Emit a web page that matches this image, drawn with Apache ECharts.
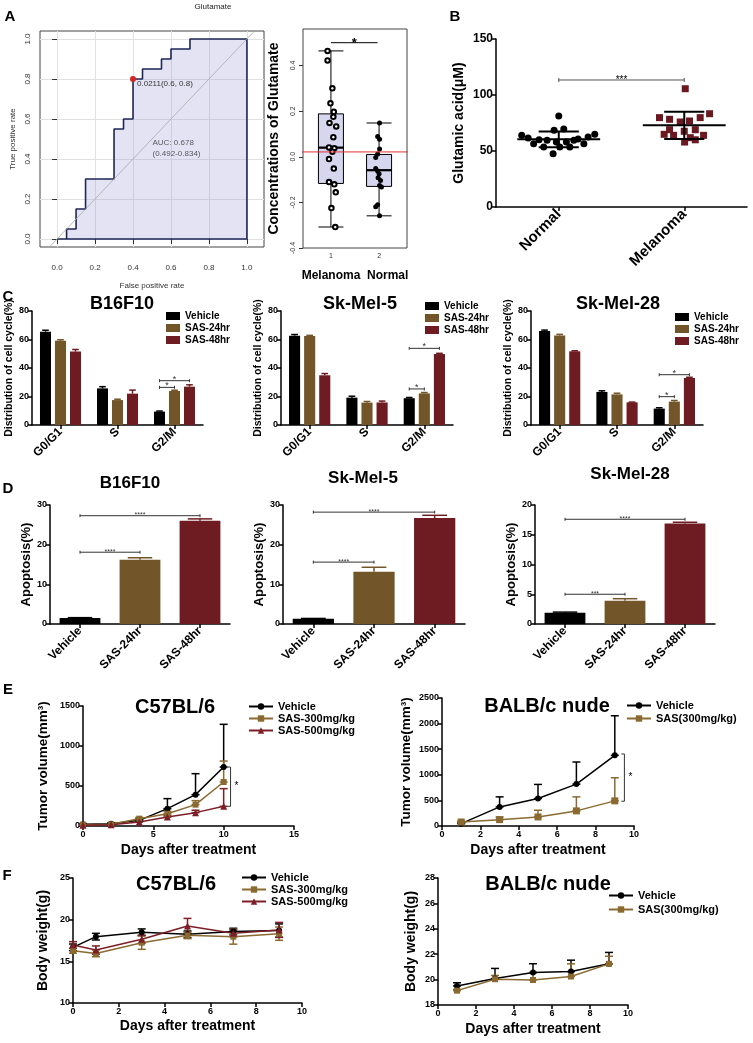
<!DOCTYPE html>
<html>
<head>
<meta charset="utf-8">
<title>Glutamate and SAS figure</title>
<script src="https://cdn.jsdelivr.net/npm/echarts@6/dist/echarts.min.js"></script>
<style>
  html, body { margin: 0; padding: 0; background: #fff; }
  #fig { width: 753px; height: 1043px; }
</style>
</head>
<body>
<div id="fig"></div>
<script>
const FONT = '"Liberation Sans", Arial, Helvetica, sans-serif';
const BLACK = '#000000';
const BROWN = '#73552a';
const WINE = '#6e1b22';
const LINE_BROWN = '#8a6a30';
const LINE_WINE = '#7d1e26';

// ---- A: ROC curve (step points, closed back along the x axis) ----
const rocFpr = [0, 0.05, 0.05, 0.1, 0.1, 0.15, 0.15, 0.3, 0.3, 0.35, 0.35, 0.4, 0.4, 0.45, 0.45, 0.55, 0.55, 0.6, 0.6, 0.7, 0.7, 1, 1, 0];
const rocTpr = [0, 0, 0.05, 0.05, 0.15, 0.15, 0.3, 0.3, 0.55, 0.55, 0.6, 0.6, 0.8, 0.8, 0.85, 0.85, 0.9, 0.9, 0.95, 0.95, 1, 1, 0, 0];
const rocDiagonal = [[-0.04, -0.04], [1.04, 1.04]];
const rocCut = [0.4, 0.8];
const rocCutLabel = '0.0211(0.6, 0.8)';
const aucAt = [0.5, 0.456];
const aucText = 'AUC: 0.678\n(0.492-0.834)';
const rocTicks = [0, 0.2, 0.4, 0.6, 0.8, 1.0];

// ---- A: box plot of glutamate concentration ----
const boxGroups = ['Melanoma', 'Normal'];
const boxStats = [[-0.308, -0.117, 0.040, 0.188, 0.464], [-0.259, -0.130, -0.059, 0.010, 0.148]];
const boxYTicks = [-0.4, -0.2, 0, 0.2, 0.4];
const glutCutoff = 0.0211;
const cutoffSpan = [-0.01, 2.96];
const melanomaConc = [[0.93, 0.464], [0.93, 0.422], [1.03, 0.30], [0.99, 0.234], [1.06, 0.197], [1.05, 0.175],
  [0.97, 0.148], [1.11, 0.133], [1.05, 0.086], [0.96, 0.041], [1.07, 0.037], [1.03, 0.022], [0.96, -0.010],
  [1.06, -0.052], [0.96, -0.111], [1.07, -0.121], [1.10, -0.156], [1.01, -0.225], [1.09, -0.308]];
const normalConc = [[2.01, 0.148], [1.97, 0.089], [2.01, 0.077], [2.01, 0.034], [1.97, 0.012], [1.93, -0.003],
  [1.93, -0.052], [1.97, -0.062], [2.00, -0.074], [1.98, -0.092], [2.03, -0.104], [2.01, -0.126],
  [2.05, -0.133], [1.97, -0.210], [1.93, -0.219], [2.01, -0.259]];
const boxSig = [[1, 0, 1.97, 0, 0.50]];
const boxSigLabels = ['*'];

// ---- B: glutamic acid ----
const gluGroups = ['Normal', 'Melanoma'];
const normalGlu = [[0.205, 64], [0.256, 61.6], [0.30, 56.5], [0.343, 60], [0.38, 53.6], [0.407, 59.5], [0.455, 47.6],
  [0.463, 68.5], [0.50, 81.2], [0.481, 58], [0.508, 53.6], [0.54, 69.6], [0.561, 58], [0.588, 53.6], [0.62, 59.5],
  [0.654, 60.7], [0.70, 56.5], [0.734, 62.5], [0.787, 64.9]];
const melanomaGlu = [[1.508, 105.6], [1.303, 79.8], [1.383, 78.3], [1.468, 75.9], [1.542, 76.8], [1.627, 79.8],
  [1.702, 83.3], [1.383, 69], [1.50, 67.6], [1.588, 69], [1.34, 64.9], [1.415, 64], [1.548, 61.9], [1.654, 64],
  [1.503, 58], [1.588, 60]];
const gluMeanSd = [[0.5, 60.4, 7.0], [1.5, 72.9, 12.2]];
const gluSig = [[0, 0, 1, 0, 113.4]];
const gluSigLabels = ['***'];

// ---- C: cell cycle distribution (rows = Vehicle, SAS-24hr, SAS-48hr) ----
const cyclePhases = ['G0/G1', 'S', 'G2/M'];
const cycleGroups = ['Vehicle', 'SAS-24hr', 'SAS-48hr'];
const b16Cycle = [[65.5, 25.7, 9.4], [59.2, 17.5, 23.9], [51.5, 22.0, 26.9]];
const b16CycleErr = [[1.0, 1.2, 0.4], [0.6, 0.6, 0.5], [1.5, 2.5, 1.3]];
const mel5Cycle = [[62.7, 19.2, 18.8], [62.5, 15.7, 22.2], [34.9, 15.8, 49.8]];
const mel5CycleErr = [[0.8, 1.0, 0.5], [0.4, 0.8, 0.6], [1.2, 1.0, 0.5]];
const mel28Cycle = [[66.0, 23.2, 11.5], [62.8, 21.5, 16.4], [51.7, 15.9, 33.0]];
const mel28CycleErr = [[0.6, 0.8, 0.6], [0.8, 0.8, 0.8], [0.4, 0.2, 0.5]];
const b16CycleSig = [[2, 0, 2, 1, 26.4], [2, 0, 2, 2, 31.1]];
const mel5CycleSig = [[2, 0, 2, 1, 25.3], [2, 0, 2, 2, 53.8]];
const mel28CycleSig = [[2, 0, 2, 1, 19.9], [2, 0, 2, 2, 35.3]];
const cycleSigLabels = ['*', '*'];

// ---- D: apoptosis ----
const apopGroups = ['Vehicle', 'SAS-24hr', 'SAS-48hr'];
const b16Apop = [1.5, 16.2, 26.0];
const b16ApopErr = [0.1, 0.5, 0.5];
const mel5Apop = [1.3, 13.2, 26.7];
const mel5ApopErr = [0.1, 1.1, 0.7];
const mel28Apop = [1.9, 3.9, 16.9];
const mel28ApopErr = [0.1, 0.35, 0.2];
const b16ApopSig = [[0, 0, 1, 0, 18.1], [0, 0, 2, 0, 27.3]];
const mel5ApopSig = [[0, 0, 1, 0, 15.6], [0, 0, 2, 0, 28.2]];
const mel28ApopSig = [[0, 0, 1, 0, 5.0], [0, 0, 2, 0, 17.6]];
const b16ApopSigLabels = ['****', '****'];
const mel5ApopSigLabels = ['****', '****'];
const mel28ApopSigLabels = ['***', '****'];

// ---- E: tumour volume ----
const e1Days = [0, 2, 4, 6, 8, 10];
const e1Vehicle = [21, 29, 71, 217, 392, 737];
const e1VehicleErr = [10, 10, 20, 125, 262, 534];
const e1Sas300 = [17, 21, 92, 154, 267, 550];
const e1Sas300Err = [5, 5, 15, 30, 50, 262];
const e1Sas500 = [8, 17, 50, 112, 167, 246];
const e1Sas500Err = [5, 5, 10, 20, 30, 221];
const e1Sig = [[10.49, 737, 246]];
const e2Days = [1, 3, 5, 7, 9];
const e2Vehicle = [46, 373, 537, 818, 1381];
const e2VehicleErr = [20, 196, 275, 432, 772];
const e2Sas = [78, 124, 177, 295, 491];
const e2SasErr = [20, 50, 131, 274, 451];
const e2Sig = [[9.5, 1407, 484]];

// ---- F: body weight ----
const f1Days = [0, 1, 3, 5, 7, 9];
const f1Vehicle = [16.68, 17.96, 18.49, 18.24, 18.57, 18.69];
const f1VehicleErr = [0.4, 0.4, 0.4, 0.4, 0.4, 0.8];
const f1Sas300 = [16.27, 15.95, 17.24, 18.12, 17.96, 18.32];
const f1Sas300Err = [0.3, 0.4, 0.8, 0.4, 0.9, 0.8];
const f1Sas500 = [16.96, 16.35, 17.64, 19.25, 18.36, 18.77];
const f1Sas500Err = [0.4, 0.5, 0.5, 0.9, 0.4, 0.9];
const f2Days = [1, 3, 5, 7, 9];
const f2Vehicle = [19.5, 20.08, 20.55, 20.63, 21.24];
const f2VehicleErr = [0.25, 0.8, 0.7, 0.9, 0.9];
const f2Sas = [19.13, 20.03, 19.97, 20.24, 21.24];
const f2SasErr = [0.1, 0.3, 0.6, 1.0, 0.6];

// ---------- renderers ----------
function barSlot(band, n, k, catGap, barGap) {
  const usable = band * (1 - catGap);
  const w = usable / (n + (n - 1) * barGap);
  return { dx: -usable / 2 + w / 2 + k * w * (1 + barGap), w: w };
}

// [category, seriesIndex, value, error]
function barErrors(colorOf, n, catGap, barGap) {
  return function (params, api) {
    const c = api.value(0), k = api.value(1), v = api.value(2), e = api.value(3);
    const base = api.coord([c, v]);
    const top = api.coord([c, v + e]);
    const slot = barSlot(api.size([1, 0])[0], n, k, catGap, barGap);
    const x = base[0] + slot.dx;
    const hw = slot.w * 0.3;
    const style = { stroke: colorOf(c, k), lineWidth: 1.5 };
    return { type: 'group', children: [
      { type: 'line', shape: { x1: x, y1: base[1], x2: x, y2: top[1] }, style: style },
      { type: 'line', shape: { x1: x - hw, y1: top[1], x2: x + hw, y2: top[1] }, style: style }
    ] };
  };
}

// [cat1, series1, cat2, series2, y]
function sigBracket(labels, n, catGap, barGap, opts) {
  return function (params, api) {
    const c1 = api.value(0), k1 = api.value(1), c2 = api.value(2), k2 = api.value(3), y = api.value(4);
    const band = api.size([1, 0])[0];
    const p1 = api.coord([c1, y]), p2 = api.coord([c2, y]);
    const x1 = p1[0] + (n ? barSlot(band, n, k1, catGap, barGap).dx : 0);
    const x2 = p2[0] + (n ? barSlot(band, n, k2, catGap, barGap).dx : 0);
    const yy = p1[1];
    const st = { stroke: opts.color, lineWidth: opts.width };
    return { type: 'group', children: [
      { type: 'line', shape: { x1: x1, y1: yy, x2: x2, y2: yy }, style: st },
      { type: 'line', shape: { x1: x1, y1: yy - opts.tick, x2: x1, y2: yy + opts.tick }, style: st },
      { type: 'line', shape: { x1: x2, y1: yy - opts.tick, x2: x2, y2: yy + opts.tick }, style: st },
      { type: 'text', x: (x1 + x2) / 2, y: yy + opts.lift, style: {
        text: labels[params.dataIndex], fill: opts.textColor || opts.color, font: opts.font,
        align: 'center', verticalAlign: 'bottom' } }
    ] };
  };
}

// [x, y1, y2]
function sideBracket(label) {
  return function (params, api) {
    const a = api.coord([api.value(0), api.value(1)]);
    const b = api.coord([api.value(0), api.value(2)]);
    const st = { stroke: '#333', lineWidth: 1 };
    return { type: 'group', children: [
      { type: 'line', shape: { x1: a[0], y1: a[1], x2: b[0], y2: b[1] }, style: st },
      { type: 'line', shape: { x1: a[0] - 3, y1: a[1], x2: a[0], y2: a[1] }, style: st },
      { type: 'line', shape: { x1: b[0] - 3, y1: b[1], x2: b[0], y2: b[1] }, style: st },
      { type: 'text', x: a[0] + 4, y: (a[1] + b[1]) / 2, style: {
        text: label, fill: '#000', font: '10px ' + FONT, align: 'left', verticalAlign: 'middle' } }
    ] };
  };
}

// [x, y, up, down]
function pointErrors(color) {
  return function (params, api) {
    const x = api.value(0), y = api.value(1);
    const hi = api.coord([x, y + api.value(2)]);
    const lo = api.coord([x, y - api.value(3)]);
    const st = { stroke: color, lineWidth: 1.5 };
    return { type: 'group', children: [
      { type: 'line', shape: { x1: hi[0], y1: hi[1], x2: lo[0], y2: lo[1] }, style: st },
      { type: 'line', shape: { x1: hi[0] - 4, y1: hi[1], x2: hi[0] + 4, y2: hi[1] }, style: st },
      { type: 'line', shape: { x1: lo[0] - 4, y1: lo[1], x2: lo[0] + 4, y2: lo[1] }, style: st }
    ] };
  };
}

// [x, mean, sd]
function meanSd(params, api) {
  const x = api.value(0), m = api.value(1), s = api.value(2);
  const unit = api.size([1, 0])[0];
  const c = api.coord([x, m]), hi = api.coord([x, m + s]), lo = api.coord([x, m - s]);
  const st = { stroke: '#000', lineWidth: 2 };
  const mw = unit * 0.33, cw = unit * 0.16;
  return { type: 'group', children: [
    { type: 'line', shape: { x1: c[0] - mw, y1: c[1], x2: c[0] + mw, y2: c[1] }, style: st },
    { type: 'line', shape: { x1: c[0], y1: hi[1], x2: c[0], y2: lo[1] }, style: st },
    { type: 'line', shape: { x1: c[0] - cw, y1: hi[1], x2: c[0] + cw, y2: hi[1] }, style: st },
    { type: 'line', shape: { x1: c[0] - cw, y1: lo[1], x2: c[0] + cw, y2: lo[1] }, style: st }
  ] };
}

// [x, median]
function medianBar(params, api) {
  const c = api.coord([api.value(0), api.value(1)]);
  const hw = api.size([1, 0])[0] * 0.26;
  return { type: 'line', shape: { x1: c[0] - hw, y1: c[1], x2: c[0] + hw, y2: c[1] },
    style: { stroke: '#000', lineWidth: 2.2 } };
}

// ---------- axes ----------
const prismLine = { show: true, lineStyle: { color: '#000', width: 1.5 } };
const prismTick = { show: true, length: 4, lineStyle: { color: '#000', width: 1.5 } };
const plainNumber = function (v) { return String(v); };

function prismY(grid, min, max, interval, name, nameGap, nameSize, labelSize) {
  return {
    type: 'value', gridIndex: grid, min: min, max: max, interval: interval,
    name: name, nameLocation: 'middle', nameGap: nameGap,
    nameTextStyle: { fontFamily: FONT, fontWeight: 'bold', fontSize: nameSize, color: '#000' },
    axisLine: prismLine, axisTick: prismTick,
    axisLabel: { fontFamily: FONT, fontWeight: 'bold', fontSize: labelSize, color: '#000', margin: 3, formatter: plainNumber },
    splitLine: { show: false }
  };
}
function prismX(grid, min, max, interval, name, nameGap) {
  return {
    type: 'value', gridIndex: grid, min: min, max: max, interval: interval,
    name: name, nameLocation: 'middle', nameGap: nameGap,
    nameTextStyle: { fontFamily: FONT, fontWeight: 'bold', fontSize: 14, color: '#000' },
    axisLine: prismLine, axisTick: prismTick,
    axisLabel: { fontFamily: FONT, fontWeight: 'bold', fontSize: 9, color: '#000', margin: 4, formatter: plainNumber },
    splitLine: { show: false }
  };
}
function prismCat(grid, cats, labelSize) {
  return {
    type: 'category', gridIndex: grid, data: cats,
    axisLine: prismLine,
    axisTick: { show: true, alignWithLabel: true, length: 4, lineStyle: { color: '#000', width: 1.5 } },
    axisLabel: { rotate: 45, interval: 0, fontFamily: FONT, fontWeight: 'bold', fontSize: labelSize, color: '#000', margin: 5 },
    splitLine: { show: false }
  };
}

function legendAt(left, top, names, tag, isBar, gap) {
  return {
    left: left, top: top, orient: 'vertical', padding: 0, itemGap: gap,
    itemWidth: isBar ? 14 : 24, itemHeight: 8,
    icon: isBar ? 'rect' : null,
    selectedMode: false,
    data: names.map(function (n) { return n + tag; }),
    formatter: function (n) { return n.split('#')[0]; },
    textStyle: { fontFamily: FONT, fontWeight: 'bold', fontSize: isBar ? 10 : 11, color: '#000' }
  };
}

// ---------- series builders ----------
const cycleColors = [BLACK, BROWN, WINE];
const apopColors = [BLACK, BROWN, WINE];

function cyclePanel(idx, values, errs, sig) {
  const tag = '#C' + (idx + 1), xi = 4 + idx, yi = 3 + idx;
  const out = cycleGroups.map(function (g, k) {
    return { type: 'bar', name: g + tag, xAxisIndex: xi, yAxisIndex: yi, data: values[k],
      barCategoryGap: '28%', barGap: '36%', itemStyle: { color: cycleColors[k] } };
  });
  const rows = [];
  values.forEach(function (row, k) { row.forEach(function (v, c) { rows.push([c, k, v, errs[k][c]]); }); });
  out.push({ type: 'custom', xAxisIndex: xi, yAxisIndex: yi, data: rows, encode: { x: 0, y: 2 }, z: 3,
    renderItem: barErrors(function (c, k) { return cycleColors[k]; }, 3, 0.28, 0.36) });
  out.push({ type: 'custom', xAxisIndex: xi, yAxisIndex: yi, data: sig, encode: { x: 0, y: 4 }, z: 4,
    renderItem: sigBracket(cycleSigLabels, 3, 0.28, 0.36,
      { color: '#333', width: 1, tick: 1.5, lift: 3, font: '9px ' + FONT }) });
  return out;
}

function apopPanel(idx, values, errs, sig, labels) {
  const xi = 7 + idx, yi = 6 + idx;
  return [
    { type: 'bar', name: 'Apoptosis#D' + (idx + 1), xAxisIndex: xi, yAxisIndex: yi, barCategoryGap: '32%',
      data: values.map(function (v, i) { return { value: v, itemStyle: { color: apopColors[i] } }; }) },
    { type: 'custom', xAxisIndex: xi, yAxisIndex: yi, encode: { x: 0, y: 2 }, z: 3,
      data: values.map(function (v, i) { return [i, 0, v, errs[i]]; }),
      renderItem: barErrors(function (c) { return apopColors[c]; }, 1, 0.32, 0) },
    { type: 'custom', xAxisIndex: xi, yAxisIndex: yi, data: sig, encode: { x: 0, y: 4 }, z: 4,
      renderItem: sigBracket(labels, 1, 0.32, 0,
        { color: '#333', width: 1, tick: 1.5, lift: 3, font: '7px ' + FONT }) }
  ];
}

function growth(tag, xi, yi, days, name, values, up, down, color, symbol, size) {
  return [
    { type: 'custom', xAxisIndex: xi, yAxisIndex: yi, z: 1, encode: { x: 0, y: 1 },
      data: days.map(function (d, i) { return [d, values[i], up[i], down ? down[i] : 0]; }),
      renderItem: pointErrors(color) },
    { type: 'line', name: name + tag, xAxisIndex: xi, yAxisIndex: yi, z: 2,
      data: days.map(function (d, i) { return [d, values[i]]; }),
      symbol: symbol, symbolSize: size, showAllSymbol: true,
      lineStyle: { color: color, width: 1.5 }, itemStyle: { color: color, opacity: 1 } }
  ];
}

// ---------- option ----------
const option = {
  animation: false,
  backgroundColor: '#ffffff',
  textStyle: { fontFamily: FONT },
  title: [
    { text: 'Glutamate', left: 213, top: 3, textAlign: 'center', padding: 0, textStyle: { fontSize: 8, fontWeight: 'normal', color: '#222' } },
    { text: 'B16F10', left: 122, top: 295, textAlign: 'center', padding: 0, textStyle: { fontSize: 18, fontWeight: 'bold', color: '#000' } },
    { text: 'Sk-Mel-5', left: 360, top: 295, textAlign: 'center', padding: 0, textStyle: { fontSize: 18, fontWeight: 'bold', color: '#000' } },
    { text: 'Sk-Mel-28', left: 618, top: 295, textAlign: 'center', padding: 0, textStyle: { fontSize: 18, fontWeight: 'bold', color: '#000' } },
    { text: 'B16F10', left: 130, top: 475, textAlign: 'center', padding: 0, textStyle: { fontSize: 17, fontWeight: 'bold', color: '#000' } },
    { text: 'Sk-Mel-5', left: 363, top: 470, textAlign: 'center', padding: 0, textStyle: { fontSize: 17, fontWeight: 'bold', color: '#000' } },
    { text: 'Sk-Mel-28', left: 630, top: 466, textAlign: 'center', padding: 0, textStyle: { fontSize: 17, fontWeight: 'bold', color: '#000' } },
    { text: 'C57BL/6', left: 175, top: 697, textAlign: 'center', padding: 0, textStyle: { fontSize: 20, fontWeight: 'bold', color: '#000' } },
    { text: 'BALB/c nude', left: 547, top: 696, textAlign: 'center', padding: 0, textStyle: { fontSize: 20, fontWeight: 'bold', color: '#000' } },
    { text: 'C57BL/6', left: 176, top: 874, textAlign: 'center', padding: 0, textStyle: { fontSize: 20, fontWeight: 'bold', color: '#000' } },
    { text: 'BALB/c nude', left: 548, top: 874, textAlign: 'center', padding: 0, textStyle: { fontSize: 20, fontWeight: 'bold', color: '#000' } }
  ],
  legend: [
    legendAt(166, 311, cycleGroups, '#C1', true, 2),
    legendAt(425, 301, cycleGroups, '#C2', true, 2),
    legendAt(675, 312, cycleGroups, '#C3', true, 2),
    legendAt(248, 701, ['Vehicle', 'SAS-300mg/kg', 'SAS-500mg/kg'], '#E1', false, 1),
    legendAt(626, 700, ['Vehicle', 'SAS(300mg/kg)'], '#E2', false, 2),
    legendAt(241, 872, ['Vehicle', 'SAS-300mg/kg', 'SAS-500mg/kg'], '#F1', false, 1),
    legendAt(608, 890, ['Vehicle', 'SAS(300mg/kg)'], '#F2', false, 3)
  ],
  grid: [
    { left: 40, top: 31, width: 224, height: 216, show: true, borderColor: '#444', borderWidth: 1 },
    { left: 303, top: 29, width: 104, height: 219, show: true, borderColor: '#444', borderWidth: 1 },
    { left: 496, top: 39, width: 251, height: 168 },
    { left: 32, top: 311, width: 171, height: 114 },
    { left: 281, top: 311, width: 172, height: 114 },
    { left: 531, top: 311, width: 172, height: 114 },
    { left: 50, top: 505, width: 180, height: 119 },
    { left: 283, top: 505, width: 182, height: 119 },
    { left: 535, top: 505, width: 180, height: 119 },
    { left: 83, top: 706, width: 211, height: 120 },
    { left: 442, top: 698, width: 192, height: 128 },
    { left: 73, top: 878, width: 229, height: 125 },
    { left: 438, top: 878, width: 190, height: 127 }
  ],
  xAxis: [
    { type: 'value', gridIndex: 0, min: -0.09, max: 1.09, splitNumber: 11,
      name: 'False positive rate', nameLocation: 'middle', nameGap: 35,
      nameTextStyle: { fontSize: 8, color: '#333' },
      axisLine: { show: false },
      axisTick: { show: true, customValues: rocTicks, length: 5, lineStyle: { color: '#333' } },
      axisLabel: { customValues: rocTicks, fontSize: 8, color: '#333', margin: 17,
        formatter: function (v) { return v.toFixed(1); } },
      splitLine: { show: true, lineStyle: { color: '#e2e2e2', width: 1 } } },
    { type: 'value', gridIndex: 1, min: 0.42, max: 2.58,
      name: 'Melanoma  Normal', nameLocation: 'middle', nameGap: 22,
      nameTextStyle: { fontSize: 12, fontWeight: 'bold', color: '#000' },
      axisLine: { show: false },
      axisTick: { show: true, customValues: [1, 2], length: 4, lineStyle: { color: '#333' } },
      axisLabel: { customValues: [1, 2], fontSize: 7, color: '#333', margin: 5 },
      splitLine: { show: false } },
    prismCat(2, gluGroups, 15),
    { type: 'value', gridIndex: 2, min: 0, max: 2, show: false },
    prismCat(3, cyclePhases, 12),
    prismCat(4, cyclePhases, 12),
    prismCat(5, cyclePhases, 12),
    prismCat(6, apopGroups, 12),
    prismCat(7, apopGroups, 12),
    prismCat(8, apopGroups, 12),
    prismX(9, 0, 15, 5, 'Days after treatment', 17),
    prismX(10, 0, 10, 2, 'Days after treatment', 17),
    prismX(11, 0, 10, 2, 'Days after treatment', 16),
    prismX(12, 0, 10, 2, 'Days after treatment', 17)
  ],
  yAxis: [
    { type: 'value', gridIndex: 0, min: -0.04, max: 1.04, splitNumber: 10,
      name: 'True positive rate', nameLocation: 'middle', nameGap: 23,
      nameTextStyle: { fontSize: 8, color: '#333' },
      axisLine: { show: false },
      axisTick: { show: true, customValues: rocTicks, length: 5, lineStyle: { color: '#333' } },
      axisLabel: { customValues: rocTicks, rotate: 90, fontSize: 8, color: '#333', margin: 8,
        formatter: function (v) { return v.toFixed(1); } },
      splitLine: { show: true, lineStyle: { color: '#e2e2e2', width: 1 } } },
    { type: 'value', gridIndex: 1, min: -0.4, max: 0.56,
      name: 'Concentrations of Glutamate', nameLocation: 'middle', nameGap: 22,
      nameTextStyle: { fontSize: 14, fontWeight: 'bold', color: '#000' },
      axisLine: { show: false },
      axisTick: { show: true, customValues: boxYTicks, length: 4, lineStyle: { color: '#333' } },
      axisLabel: { customValues: boxYTicks, rotate: 90, fontSize: 7, color: '#333', margin: 6,
        formatter: function (v) { return v.toFixed(1); } },
      splitLine: { show: false } },
    prismY(2, 0, 150, 50, 'Glutamic acid(μM)', 30, 14, 12),
    prismY(3, 0, 80, 20, 'Distribution of cell cycle(%)', 16, 10.5, 9),
    prismY(4, 0, 80, 20, 'Distribution of cell cycle(%)', 16, 10.5, 9),
    prismY(5, 0, 80, 20, 'Distribution of cell cycle(%)', 16, 10.5, 9),
    prismY(6, 0, 30, 10, 'Apoptosis(%)', 15, 13, 9),
    prismY(7, 0, 30, 10, 'Apoptosis(%)', 15, 13, 9),
    prismY(8, 0, 20, 5, 'Apoptosis(%)', 16, 13, 9),
    prismY(9, 0, 1500, 500, 'Tumor volume(mm³)', 33, 13.5, 9),
    prismY(10, 0, 2500, 500, 'Tumor volume(mm³)', 29, 13.5, 9),
    prismY(11, 10, 25, 5, 'Body weight(g)', 23, 14, 9),
    prismY(12, 18, 28, 2, 'Body weight(g)', 20, 14, 9)
  ],
  graphic: [
    { type: 'text', x: 10, y: 17, style: { text: 'A', font: 'bold 15px ' + FONT, fill: '#000', align: 'center', verticalAlign: 'middle' } },
    { type: 'text', x: 455, y: 17, style: { text: 'B', font: 'bold 15px ' + FONT, fill: '#000', align: 'center', verticalAlign: 'middle' } },
    { type: 'text', x: 8, y: 297, style: { text: 'C', font: 'bold 15px ' + FONT, fill: '#000', align: 'center', verticalAlign: 'middle' } },
    { type: 'text', x: 8, y: 489, style: { text: 'D', font: 'bold 15px ' + FONT, fill: '#000', align: 'center', verticalAlign: 'middle' } },
    { type: 'text', x: 8, y: 690, style: { text: 'E', font: 'bold 15px ' + FONT, fill: '#000', align: 'center', verticalAlign: 'middle' } },
    { type: 'text', x: 7, y: 876, style: { text: 'F', font: 'bold 15px ' + FONT, fill: '#000', align: 'center', verticalAlign: 'middle' } }
  ],
  series: [].concat(
    [
      { type: 'line', xAxisIndex: 0, yAxisIndex: 0, z: 2, symbol: 'none', silent: true,
        data: rocFpr.map(function (x, i) { return [x, rocTpr[i]]; }),
        lineStyle: { color: '#1f2658', width: 1.6 },
        areaStyle: { color: 'rgba(150,150,215,0.38)', origin: 0 } },
      { type: 'line', xAxisIndex: 0, yAxisIndex: 0, z: 3, symbol: 'none', silent: true, clip: false,
        data: rocDiagonal, lineStyle: { color: '#a8a8a8', width: 0.8 } },
      { type: 'scatter', xAxisIndex: 0, yAxisIndex: 0, z: 4, data: [rocCut], symbolSize: 6,
        itemStyle: { color: '#d42424', opacity: 1 },
        label: { show: true, position: 'right', distance: 1, offset: [0, 5], formatter: rocCutLabel, fontSize: 8, color: '#333' } },
      { type: 'scatter', xAxisIndex: 0, yAxisIndex: 0, z: 4, data: [aucAt], symbolSize: 1,
        itemStyle: { color: 'rgba(0,0,0,0)' },
        label: { show: true, position: 'right', distance: 0, formatter: aucText, fontSize: 8, color: '#333', lineHeight: 11, align: 'left' } },

      { type: 'boxplot', xAxisIndex: 1, yAxisIndex: 1, boxWidth: [25, 25], z: 2,
        data: boxStats.map(function (s, i) { return [i + 1].concat(s); }),
        itemStyle: { color: '#d6d6ef', borderColor: '#000', borderWidth: 1 } },
      { type: 'custom', xAxisIndex: 1, yAxisIndex: 1, z: 3, encode: { x: 0, y: 1 },
        data: boxStats.map(function (s, i) { return [i + 1, s[2]]; }), renderItem: medianBar },
      { type: 'scatter', name: boxGroups[0], xAxisIndex: 1, yAxisIndex: 1, z: 4, data: melanomaConc,
        symbol: 'emptyCircle', symbolSize: 4.5, itemStyle: { color: '#000', borderWidth: 0.9, opacity: 1 } },
      { type: 'scatter', name: boxGroups[1], xAxisIndex: 1, yAxisIndex: 1, z: 4, data: normalConc,
        symbol: 'circle', symbolSize: 5, itemStyle: { color: '#000', opacity: 1 } },
      { type: 'line', xAxisIndex: 1, yAxisIndex: 1, z: 5, symbol: 'none', silent: true, clip: false,
        data: cutoffSpan.map(function (x) { return [x, glutCutoff]; }),
        lineStyle: { color: '#e23030', width: 1 } },
      { type: 'custom', xAxisIndex: 1, yAxisIndex: 1, z: 5, encode: { x: 0, y: 4 }, data: boxSig,
        renderItem: sigBracket(boxSigLabels, 0, 0, 0,
          { color: '#000', width: 1, tick: 0, lift: 7, font: 'bold 13px ' + FONT }) },

      { type: 'scatter', name: 'Normal#B', xAxisIndex: 3, yAxisIndex: 2, z: 3, data: normalGlu,
        symbol: 'circle', symbolSize: 7, itemStyle: { color: '#000', opacity: 1 } },
      { type: 'scatter', name: 'Melanoma#B', xAxisIndex: 3, yAxisIndex: 2, z: 3, data: melanomaGlu,
        symbol: 'rect', symbolSize: 7, itemStyle: { color: '#6b1820', opacity: 1 } },
      { type: 'custom', xAxisIndex: 3, yAxisIndex: 2, z: 4, encode: { x: 0, y: 1 }, data: gluMeanSd, renderItem: meanSd },
      { type: 'custom', xAxisIndex: 2, yAxisIndex: 2, z: 4, encode: { x: 0, y: 4 }, data: gluSig,
        renderItem: sigBracket(gluSigLabels, 0, 0, 0,
          { color: '#555', width: 1, tick: 2, lift: 5, font: '10px ' + FONT, textColor: '#000' }) }
    ],
    cyclePanel(0, b16Cycle, b16CycleErr, b16CycleSig),
    cyclePanel(1, mel5Cycle, mel5CycleErr, mel5CycleSig),
    cyclePanel(2, mel28Cycle, mel28CycleErr, mel28CycleSig),
    apopPanel(0, b16Apop, b16ApopErr, b16ApopSig, b16ApopSigLabels),
    apopPanel(1, mel5Apop, mel5ApopErr, mel5ApopSig, mel5ApopSigLabels),
    apopPanel(2, mel28Apop, mel28ApopErr, mel28ApopSig, mel28ApopSigLabels),
    growth('#E1', 10, 9, e1Days, 'Vehicle', e1Vehicle, e1VehicleErr, null, BLACK, 'circle', 6),
    growth('#E1', 10, 9, e1Days, 'SAS-300mg/kg', e1Sas300, e1Sas300Err, null, LINE_BROWN, 'rect', 6),
    growth('#E1', 10, 9, e1Days, 'SAS-500mg/kg', e1Sas500, e1Sas500Err, null, LINE_WINE, 'triangle', 7),
    [{ type: 'custom', xAxisIndex: 10, yAxisIndex: 9, z: 5, encode: { x: 0, y: 1 }, data: e1Sig, renderItem: sideBracket('*') }],
    growth('#E2', 11, 10, e2Days, 'Vehicle', e2Vehicle, e2VehicleErr, null, BLACK, 'circle', 6),
    growth('#E2', 11, 10, e2Days, 'SAS(300mg/kg)', e2Sas, e2SasErr, null, LINE_BROWN, 'rect', 7),
    [{ type: 'custom', xAxisIndex: 11, yAxisIndex: 10, z: 5, encode: { x: 0, y: 1 }, data: e2Sig, renderItem: sideBracket('*') }],
    growth('#F1', 12, 11, f1Days, 'Vehicle', f1Vehicle, f1VehicleErr, f1VehicleErr, BLACK, 'circle', 6),
    growth('#F1', 12, 11, f1Days, 'SAS-300mg/kg', f1Sas300, f1Sas300Err, f1Sas300Err, LINE_BROWN, 'rect', 6),
    growth('#F1', 12, 11, f1Days, 'SAS-500mg/kg', f1Sas500, f1Sas500Err, f1Sas500Err, LINE_WINE, 'triangle', 7),
    growth('#F2', 13, 12, f2Days, 'Vehicle', f2Vehicle, f2VehicleErr, null, BLACK, 'circle', 6),
    growth('#F2', 13, 12, f2Days, 'SAS(300mg/kg)', f2Sas, f2SasErr, null, LINE_BROWN, 'rect', 6)
  )
};

const chart = echarts.init(document.getElementById('fig'));
chart.setOption(option);
window.addEventListener('resize', function () { chart.resize(); });
</script>
</body>
</html>
